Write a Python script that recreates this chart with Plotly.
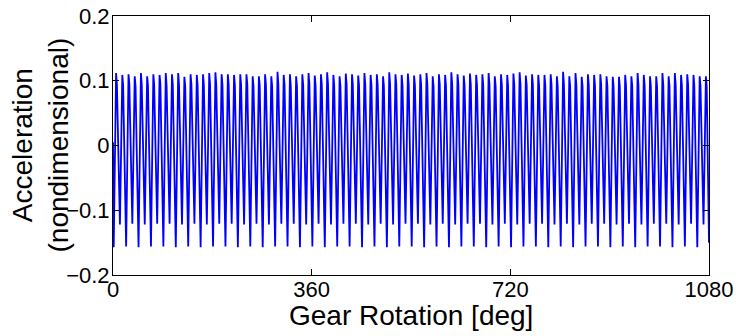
import plotly.graph_objects as go

# ---- data ----
x_ticks = [0, 360, 720, 1080]
y_ticks = [-0.2, -0.1, 0, 0.1, 0.2]
y_tick_text = ["\u22120.2", "\u22120.1", "0", "0.1", "0.2"]

teeth_per_rev = 32          # 96 mesh cycles over 1080 deg
first_min_deg = 1.3         # angle of first trough
peak_offset = 4.3           # deg after trough
shoulder_offset = 5.8       # deg after trough

start_value = 0.005
end_value = -0.150

peaks = [0.112, 0.109, 0.110, 0.107, 0.112, 0.107, 0.110, 0.109, 0.112, 0.110,
         0.112, 0.106, 0.110, 0.109, 0.110, 0.112, 0.113, 0.110, 0.110, 0.109,
         0.110, 0.110, 0.107, 0.107, 0.110, 0.107, 0.114, 0.109, 0.110, 0.107,
         0.110, 0.112, 0.108, 0.110, 0.113, 0.109, 0.107, 0.111, 0.110, 0.108,
         0.112, 0.109, 0.110, 0.107, 0.113, 0.110, 0.109, 0.111, 0.108, 0.110,
         0.112, 0.107, 0.110, 0.109, 0.113, 0.110, 0.108, 0.111, 0.109, 0.110,
         0.112, 0.107, 0.110, 0.109, 0.111, 0.113, 0.108, 0.110, 0.109,
         0.109, 0.110, 0.107, 0.114, 0.107, 0.112, 0.106, 0.110, 0.109, 0.110,
         0.107, 0.106, 0.106, 0.109, 0.107, 0.112, 0.109, 0.107, 0.107, 0.112,
         0.107, 0.112, 0.109, 0.110, 0.109, 0.107, 0.107]

shoulders = [0.094, 0.093, 0.095, 0.092, 0.094, 0.093, 0.094, 0.095, 0.093, 0.094,
             0.095, 0.092, 0.094, 0.093, 0.094, 0.095, 0.094, 0.093, 0.094, 0.093,
             0.094, 0.095, 0.092, 0.093, 0.094, 0.092, 0.095, 0.094, 0.093, 0.092,
             0.094, 0.095, 0.093, 0.094, 0.095, 0.093, 0.092, 0.094, 0.094, 0.093,
             0.095, 0.093, 0.094, 0.092, 0.095, 0.094, 0.093, 0.094, 0.093, 0.094,
             0.095, 0.092, 0.094, 0.093, 0.095, 0.094, 0.093, 0.094, 0.093, 0.094,
             0.095, 0.092, 0.094, 0.093, 0.094, 0.095, 0.093, 0.094, 0.093,
             0.093, 0.094, 0.092, 0.095, 0.092, 0.094, 0.092, 0.094, 0.093, 0.094,
             0.092, 0.092, 0.092, 0.093, 0.092, 0.094, 0.093, 0.092, 0.092, 0.094,
             0.092, 0.094, 0.093, 0.094, 0.093, 0.092, 0.092]

deep_mins = [-0.157, -0.156, -0.157, -0.156, -0.156, -0.157, -0.156, -0.157,
             -0.156, -0.156, -0.157, -0.156, -0.157, -0.156, -0.156, -0.157,
             -0.156, -0.157, -0.156, -0.156, -0.157, -0.156, -0.157, -0.156,
             -0.156, -0.157, -0.156, -0.157, -0.156, -0.156, -0.157, -0.156,
             -0.157, -0.156, -0.156, -0.157, -0.156, -0.157, -0.156, -0.156,
             -0.157, -0.156, -0.157, -0.156, -0.156, -0.157, -0.156, -0.157]

shallow_mins = [-0.122, -0.121, -0.122, -0.121, -0.121, -0.122, -0.121, -0.122,
                -0.121, -0.121, -0.122, -0.121, -0.122, -0.121, -0.121, -0.122,
                -0.121, -0.122, -0.121, -0.121, -0.122, -0.121, -0.122, -0.121,
                -0.121, -0.122, -0.121, -0.122, -0.121, -0.121, -0.122, -0.121,
                -0.122, -0.121, -0.121, -0.122, -0.121, -0.122, -0.121, -0.121,
                -0.122, -0.121, -0.122, -0.121, -0.121, -0.122, -0.121, -0.122]

x_title = "Gear Rotation [deg]"
y_title = "Acceleration<br>(nondimensional)"

# ---- assemble the polyline vertices ----
cycle = 360.0 / teeth_per_rev
xs = [0.0]
ys = [start_value]
for k in range(len(peaks)):
    t0 = first_min_deg + k * cycle
    trough = deep_mins[k // 2] if k % 2 == 0 else shallow_mins[k // 2]
    xs += [t0, t0 + peak_offset, t0 + shoulder_offset]
    ys += [trough, peaks[k], shoulders[k]]
xs.append(1080.0)
ys.append(end_value)

FONT = "Liberation Sans, Arial, Helvetica, sans-serif"

fig = go.Figure()
fig.add_trace(go.Scatter(x=xs, y=ys, mode="lines",
                         line=dict(color="#0000FF", width=1.8),
                         showlegend=False, hoverinfo="skip"))

axis_common = dict(showgrid=False, zeroline=False, showline=True,
                   linecolor="black", linewidth=1, mirror="ticks",
                   ticks="inside", ticklen=6, tickcolor="black", tickwidth=1,
                   automargin=False,
                   tickfont=dict(family=FONT, size=22, color="black"))

fig.update_xaxes(range=[0, 1080], tickvals=x_ticks,
                 ticktext=[str(v) for v in x_ticks],
                 ticklabelstandoff=-5,
                 **axis_common)
fig.update_yaxes(range=[-0.2, 0.2], tickvals=y_ticks, ticktext=y_tick_text,
                 ticklabelstandoff=-2,
                 **axis_common)

fig.add_annotation(text=x_title, xref="paper", yref="paper", x=0.5, y=0,
                   xanchor="center", yanchor="middle", yshift=-40,
                   showarrow=False,
                   font=dict(family=FONT, size=28, color="black"))
fig.add_annotation(text=y_title, xref="paper", yref="paper", x=0, y=0.5,
                   xanchor="center", yanchor="middle", xshift=-73,
                   textangle=-90, showarrow=False,
                   font=dict(family=FONT, size=28, color="black"))

fig.update_layout(width=739, height=336,
                  margin=dict(l=113, r=30, t=16, b=61, pad=0),
                  paper_bgcolor="white", plot_bgcolor="white",
                  font=dict(family=FONT, color="black"))

fig.write_html("out.html")
